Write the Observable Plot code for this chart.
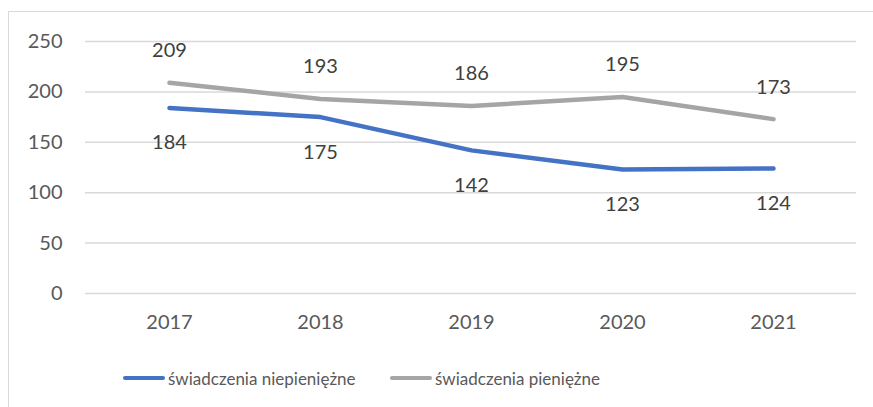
<!DOCTYPE html>
<html>
<head>
<meta charset="utf-8">
<script src="https://cdn.jsdelivr.net/npm/d3@7"></script>
<script src="https://cdn.jsdelivr.net/npm/@observablehq/plot@0.6"></script>
<style>
  html, body { margin: 0; padding: 0; background: #fff; overflow: hidden; }
  body { width: 873px; height: 407px; position: relative; font-family: Lato, sans-serif; }
  #frame { position: absolute; left: 8px; top: 11px; width: 900px; height: 500px; border: 1.5px solid #d9d9d9; box-sizing: border-box; }
  #chart { position: absolute; left: 0; top: 0; }
  .legend { position: absolute; top: 366px; height: 24px; display: flex; align-items: center; font-size: 17px; color: #595959; white-space: nowrap; }
  .sw { width: 42px; height: 4px; border-radius: 2px; margin-right: 3px; }
</style>
</head>
<body>
<div id="frame"></div>
<div id="chart"></div>
<div class="legend" style="left:123px"><span class="sw" style="background:#4472c4"></span><span>świadczenia niepieniężne</span></div>
<div class="legend" style="left:390px"><span class="sw" style="background:#a5a5a5"></span><span>świadczenia pieniężne</span></div>
<script>
const years = ["2017", "2018", "2019", "2020", "2021"];
const niepieniezne = [184, 175, 142, 123, 124];
const pieniezne = [209, 193, 186, 195, 173];
const yTicks = [0, 50, 100, 150, 200, 250];

const dataN = years.map((y, i) => ({year: y, value: niepieniezne[i]}));
const dataP = years.map((y, i) => ({year: y, value: pieniezne[i]}));

const chart = Plot.plot({
  width: 873,
  height: 340,
  marginLeft: 85,
  marginRight: 17,
  marginTop: 41,
  marginBottom: 47,
  style: {fontFamily: "Lato, sans-serif", fontSize: "20px", color: "#595959", background: "transparent"},
  x: {type: "band", domain: years, label: null},
  y: {domain: [0, 250], ticks: yTicks, label: null},
  marks: [
    Plot.gridY(yTicks, {stroke: "#d9d9d9", strokeOpacity: 1, strokeWidth: 1.5}),
    Plot.axisY(yTicks, {tickSize: 0, tickPadding: 23, fontSize: 20, fill: "#595959", label: null}),
    Plot.axisX({tickSize: 0, tickPadding: 21, fontSize: 20, fill: "#595959", label: null}),
    Plot.line(dataP, {x: "year", y: "value", stroke: "#a5a5a5", strokeWidth: 4.5, strokeLinecap: "round", strokeLinejoin: "round"}),
    Plot.line(dataN, {x: "year", y: "value", stroke: "#4472c4", strokeWidth: 4.5, strokeLinecap: "round", strokeLinejoin: "round"}),
    Plot.text(dataP, {x: "year", y: "value", text: "value", dy: -32, fill: "#404040", fontSize: 20, lineAnchor: "middle"}),
    Plot.text(dataN, {x: "year", y: "value", text: "value", dy: 35, fill: "#404040", fontSize: 20, lineAnchor: "middle"})
  ]
});
document.getElementById("chart").appendChild(chart);
</script>
</body>
</html>
